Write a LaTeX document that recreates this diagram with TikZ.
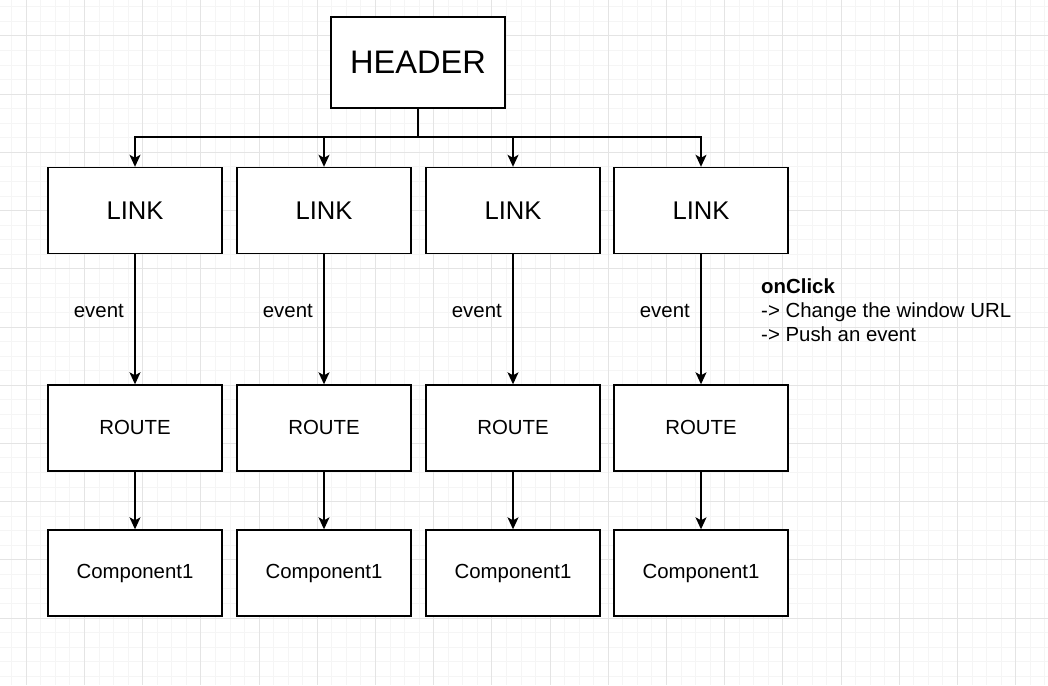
\documentclass[tikz,border=0pt]{standalone}
\usepackage{fontspec}
\setmainfont{Liberation Sans}
\usetikzlibrary{arrows.meta}
\begin{document}
\begin{tikzpicture}[x=1pt,y=-1pt,
  minorgrid/.style={draw={rgb,255:red,245;green,245;blue,245},line width=1pt},
  majorgrid/.style={draw={rgb,255:red,228;green,228;blue,228},line width=1pt},
  box/.style={draw,line width=1.4pt,fill=white,minimum width=174pt,minimum height=86pt,inner sep=0pt},
  arr/.style={line width=1.4pt,-{Stealth[length=12pt,width=11pt,inset=3pt]}},
  lbl/.style={font=\fontsize{20.4}{24}\selectfont}
]
\useasboundingbox (0,0) rectangle (1048,685);
\begin{scope}
\clip (0,0) rectangle (1048,685);
\fill[white] (0,0) rectangle (1048,685);
\foreach \i in {0,...,72} \draw[minorgrid] ({-2.8+\i*14.55},0) -- ++(0,685);
\foreach \i in {0,...,47} \draw[minorgrid] (0,{6.9+\i*14.55}) -- ++(1048,0);
\foreach \i in {0,...,18} \draw[majorgrid] ({-31.9+\i*58.2},0) -- ++(0,685);
\foreach \i in {0,...,11} \draw[majorgrid] (0,{-22.2+\i*58.2}) -- ++(1048,0);
\end{scope}

\node[box,minimum height=91pt,font=\fontsize{32.6}{36}\selectfont] (header) at (418,62.5) {HEADER};
\coordinate (bus) at (418,137);

\foreach \n/\x in {1/135,2/324,3/513,4/701}{
  \node[box,font=\fontsize{25.6}{30}\selectfont] (link\n) at (\x,210.5) {LINK};
  \node[box,lbl] (route\n) at (\x,428) {\raisebox{2pt}{ROUTE}};
  \node[box,lbl] (comp\n) at (\x,573) {Component1};
  \draw[arr] (header.south) -- (bus) -| (link\n.north);
  \draw[arr] (link\n.south) -- (route\n.north);
  \node[lbl,anchor=base east,inner sep=0pt] (ev\n) at (\x-11,317) {event};
  \draw[arr] (route\n.south) -- (comp\n.north);
}

\node[lbl,anchor=north west,align=left,inner sep=0pt] (note) at (761,279)
  {\textbf{onClick}\\-> Change the window URL\\-> Push an event};
\end{tikzpicture}
\end{document}
